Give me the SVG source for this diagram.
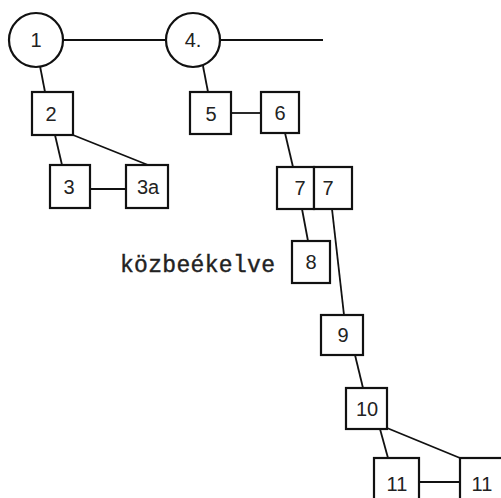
<svg xmlns="http://www.w3.org/2000/svg" width="501" height="498" viewBox="0 0 501 498">
<style>
.n{fill:#fff;stroke:#111;stroke-width:2.2}
.c line{stroke:#111;stroke-width:1.8}
.t{font-family:"Liberation Sans",Arial,sans-serif;font-size:20px;fill:#222;text-anchor:middle}
.lab{font-family:"Liberation Mono","Courier New",monospace;font-size:23px;fill:#222;stroke:#222;stroke-width:0.4}
</style>
<rect width="501" height="498" fill="#fff"/>
<g class="c" id="connectors">
<line x1="63" y1="40" x2="166" y2="40"/>
<line x1="220" y1="40" x2="323" y2="40"/>
<line x1="40" y1="66" x2="45" y2="92"/>
<line x1="203" y1="66" x2="208" y2="92"/>
<line x1="232" y1="113" x2="261" y2="113"/>
<line x1="55" y1="135" x2="62" y2="165"/>
<line x1="73" y1="135" x2="148" y2="165"/>
<line x1="90" y1="189" x2="126" y2="189"/>
<line x1="285" y1="133" x2="293" y2="167"/>
<line x1="302" y1="209" x2="308" y2="241"/>
<line x1="332" y1="209" x2="344" y2="315"/>
<line x1="355" y1="355" x2="363" y2="388"/>
<line x1="380" y1="429" x2="388" y2="458"/>
<line x1="387" y1="428" x2="460" y2="458"/>
<line x1="419" y1="482" x2="460" y2="482"/>
</g>
<g id="n1"><circle class="n" cx="36" cy="40" r="27"/><text class="t" x="36" y="47">1</text></g>
<g id="n4"><circle class="n" cx="193" cy="40" r="27"/><text class="t" x="193" y="47">4.</text></g>
<g id="n2"><rect class="n" x="32" y="92" width="41" height="43"/><text class="t" x="51" y="121">2</text></g>
<g id="n5"><rect class="n" x="190" y="92" width="41" height="42"/><text class="t" x="211" y="121">5</text></g>
<g id="n6"><rect class="n" x="261" y="92" width="38" height="41"/><text class="t" x="280" y="120">6</text></g>
<g id="n3"><rect class="n" x="50" y="165" width="40" height="43"/><text class="t" x="69" y="194">3</text></g>
<g id="n3a"><rect class="n" x="126" y="165" width="42" height="43"/><text class="t" x="148" y="194">3a</text></g>
<g id="n7a"><rect class="n" x="277" y="167" width="37" height="42"/><text class="t" x="300" y="195">7</text></g>
<g id="n7b"><rect class="n" x="314" y="167" width="38" height="42"/><text class="t" x="328" y="195">7</text></g>
<g id="n8"><rect class="n" x="292" y="241" width="38" height="42"/><text class="t" x="311" y="269">8</text></g>
<g id="label"><text class="lab" x="120" y="272" textLength="155">közbeékelve</text></g>
<g id="n9"><rect class="n" x="321" y="315" width="42" height="40"/><text class="t" x="343" y="342">9</text></g>
<g id="n10"><rect class="n" x="346" y="388" width="41" height="41"/><text class="t" x="367" y="416">10</text></g>
<g id="n11a"><rect class="n" x="374" y="458" width="45" height="50"/><text class="t" x="397" y="491">11</text></g>
<g id="n11b"><rect class="n" x="460" y="458" width="50" height="50"/><text class="t" x="482" y="491">11</text></g>
</svg>
